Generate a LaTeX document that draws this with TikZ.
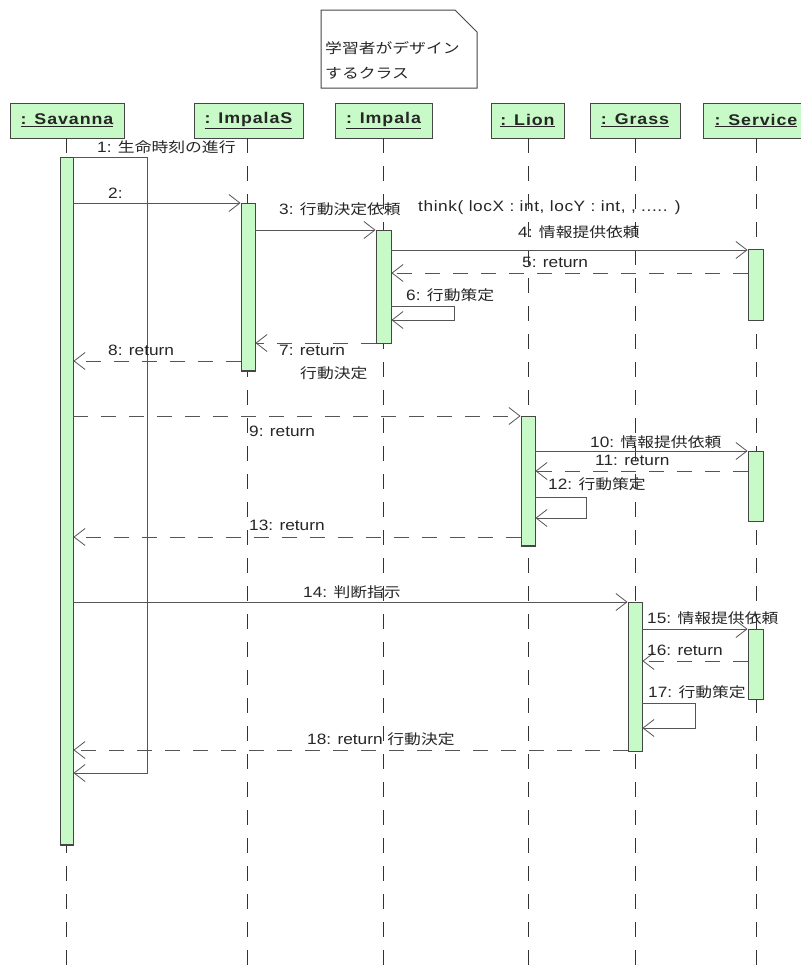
\documentclass[tikz,border=0pt]{standalone}
\usepackage{fontspec}
\setmainfont{Liberation Sans}[FakeStretch=1.15]
\newfontfamily\jpfont{Noto Sans CJK JP}[FakeStretch=1.2]
\newfontfamily\hdfont{Liberation Sans}[FakeStretch=1.15,LetterSpace=6]
\newfontfamily\widefont{Liberation Sans}[FakeStretch=1.15,LetterSpace=4]
\newcommand\jp[1]{{\jpfont\fontsize{14}{16}\selectfont #1}}
\usetikzlibrary{arrows.meta}
\definecolor{barfill}{RGB}{200,250,200}
\definecolor{edgec}{RGB}{70,70,70}
\definecolor{lnc}{RGB}{85,85,85}
\tikzset{
 hdbox/.style={draw=edgec, fill=barfill, line width=1pt, rectangle, minimum height=35pt, inner sep=0,
   font=\hdfont\bfseries\fontsize{15.5}{18}\selectfont, text=black!85},
 lifeline/.style={draw=black!80, line width=0.9pt, dash pattern=on 15pt off 13pt},
 actbar/.style={draw=edgec, fill=barfill, line width=0.9pt, rectangle, minimum width=14pt, inner sep=0},
 barend/.style={draw=edgec, line width=2pt},
 call/.style={draw=lnc, line width=0.8pt, -{Straight Barb[length=11pt,width=17pt,line width=0.8pt]}},
 ret/.style={call, dash pattern=on 15pt off 13pt},
 lbl/.style={anchor=west, inner sep=0, font=\fontsize{15}{18}\selectfont, text=black!85},
 notebox/.style={draw=edgec, line width=1pt, fill=white},
}
\begin{document}
\begin{tikzpicture}[x=1pt,y=-1pt]
\useasboundingbox (0,0) rectangle (801,970);
\clip (0,0) rectangle (801,970);
\fill[white] (0,0) rectangle (801,970);

% note
\draw[notebox] (321,10) -- (455,10) -- (477,32) -- (477,88) -- (321,88) -- cycle;
\node[lbl] (note1) at (325,48) {\jp{学習者がデザイン}};
\node[lbl] (note2) at (325,73) {\jp{するクラス}};

% headers
\node[hdbox, minimum width=114pt] (hSav) at (67,120.5) {\underline{: Savanna}};
\node[hdbox, minimum width=109pt] (hImS) at (248.5,120.5) {\underline{: ImpalaS}};
\node[hdbox, minimum width=97pt] (hImp) at (383.5,120.5) {\underline{: Impala}};
\node[hdbox, minimum width=73pt] (hLion) at (527.5,120.5) {\underline{: Lion}};
\node[hdbox, minimum width=90pt] (hGrass) at (635,120.5) {\underline{: Grass}};
\node[hdbox, minimum width=106pt] (hServ) at (756,120.5) {\underline{: Service}};

% lifelines
\draw[lifeline] (66,138) -- (66,970);
\draw[lifeline] (247.5,138) -- (247.5,970);
\draw[lifeline] (383,138) -- (383,970);
\draw[lifeline] (528,138) -- (528,970);
\draw[lifeline] (635,138) -- (635,970);
\draw[lifeline] (756,138) -- (756,970);

% activation bars
\node[actbar, minimum width=13pt, minimum height=688pt] (aSav) at (66.5,501) {};
\node[actbar, minimum height=168pt] (aImS) at (248,287) {};
\node[actbar, minimum width=15pt, minimum height=113pt] (aImp) at (383.5,286.5) {};
\node[actbar, minimum width=15pt, minimum height=71pt] (aSv1) at (755.5,284.5) {};
\node[actbar, minimum height=130pt] (aLion) at (528,481) {};
\node[actbar, minimum width=15pt, minimum height=70pt] (aSv2) at (755.5,486) {};
\node[actbar, minimum height=149pt] (aGrass) at (635,676.5) {};
\node[actbar, minimum width=15pt, minimum height=70pt] (aSv3) at (755.5,664) {};
\draw[barend] (aSav.south west) -- (aSav.south east);
\draw[barend] (aImS.south west) -- (aImS.south east);
\draw[barend] (aLion.south west) -- (aLion.south east);

% 1: self call on Savanna
\draw[call] (aSav.east |- 0,157) -- (147,157) -- (147,773) -- (aSav.east |- 0,773);
\node[lbl] (l1) at (97,147) {1: \jp{生命時刻の進行}};

% 2
\draw[call] (aSav.east |- 0,203) -- (aImS.west |- 0,203);
\node[lbl] (l2) at (108,193) {2:};

% 3
\draw[call] (aImS.east |- 0,230) -- (aImp.west |- 0,230);
\node[lbl] (l3) at (279,209) {3: \jp{行動決定依頼}};
\node[lbl] (l3b) at (418,208) {\widefont think( locX : int, locY : int, , ..... )};

% 4
\draw[call] (aImp.east |- 0,250) -- (aSv1.west |- 0,250);
\node[lbl] (l4) at (518,232) {4: \jp{情報提供依頼}};

% 5
\draw[ret] (aSv1.west |- 0,273) -- (aImp.east |- 0,273);
\node[lbl] (l5) at (522,262) {5: return};

% 6 self
\draw[call] (aImp.east |- 0,306) -- (454,306) -- (454,320) -- (aImp.east |- 0,320);
\node[lbl] (l6) at (406,295) {6: \jp{行動策定}};

% 7
\draw[ret] (aImp.west |- 0,343) -- (aImS.east |- 0,343);
\node[lbl] (l7) at (279,350) {7: return};
\node[lbl] (l7b) at (300,373) {\jp{行動決定}};

% 8
\draw[ret] (aImS.west |- 0,361) -- (aSav.east |- 0,361);
\node[lbl] (l8) at (108,350) {8: return};

% 9
\draw[ret] (aSav.east |- 0,416) -- (aLion.west |- 0,416);
\node[lbl] (l9) at (249,431) {9: return};

% 10
\draw[call] (aLion.east |- 0,451) -- (aSv2.west |- 0,451);
\node[lbl] (l10) at (590,442) {10: \jp{情報提供依頼}};

% 11
\draw[ret] (aSv2.west |- 0,471) -- (aLion.east |- 0,471);
\node[lbl] (l11) at (595,460) {11: return};

% 12 self
\draw[call] (aLion.east |- 0,497) -- (586,497) -- (586,518) -- (aLion.east |- 0,518);
\node[lbl] (l12) at (548,484) {12: \jp{行動策定}};

% 13
\draw[ret] (aLion.west |- 0,537) -- (aSav.east |- 0,537);
\node[lbl] (l13) at (249,525) {13: return};

% 14
\draw[call] (aSav.east |- 0,602) -- (aGrass.west |- 0,602);
\node[lbl] (l14) at (303,592) {14: \jp{判断指示}};

% 15
\draw[call] (aGrass.east |- 0,629) -- (aSv3.west |- 0,629);
\node[lbl] (l15) at (647,618) {15: \jp{情報提供依頼}};

% 16
\draw[ret] (aSv3.west |- 0,661) -- (aGrass.east |- 0,661);
\node[lbl] (l16) at (647,650) {16: return};

% 17 self
\draw[call] (aGrass.east |- 0,703) -- (695,703) -- (695,728) -- (aGrass.east |- 0,728);
\node[lbl] (l17) at (648,692) {17: \jp{行動策定}};

% 18
\draw[ret] (aGrass.west |- 0,750) -- (aSav.east |- 0,750);
\node[lbl] (l18) at (307,739) {18: return \jp{行動決定}};
\end{tikzpicture}
\end{document}
